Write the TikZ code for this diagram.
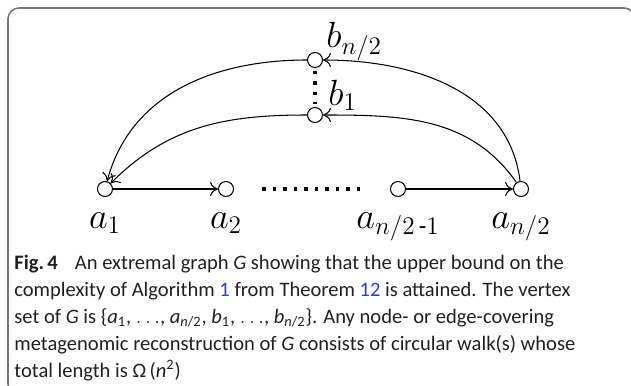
\documentclass[tikz,border=0pt]{standalone}
\usepackage{amsmath}
\usepackage[no-math]{fontspec}
\setmainfont{Carlito}
\usetikzlibrary{arrows.meta,positioning}
\definecolor{cframe}{RGB}{120,120,120}
\definecolor{clink}{RGB}{40,60,220}
\definecolor{ctext}{RGB}{35,31,32}
\newcommand{\Lref}[1]{\textcolor{clink}{#1}}
\newcommand{\Vsub}[2]{\textit{#1}\textsubscript{#2}}

\begin{document}
\begin{tikzpicture}[scale=1.0,
    vtx/.style={circle,draw,line width=0.6pt,minimum size=0.3cm,inner sep=0pt},
    lbl/.style={inner sep=0pt,font=\fontsize{20}{24}\selectfont},
    edge/.style={line width=0.6pt,-{To[length=4.5pt,width=8pt]}},
    dots/.style={line width=2pt,dash pattern=on 2pt off 4pt}]
    \clip (0,0) rectangle (12.62,7.70);
    \draw[cframe,line width=0.9pt,rounded corners=0.22cm] (0.16,-0.2) rectangle (12.70,7.54);
    % vertices
    \node[vtx] (a1) at (2.10,3.92) {};
    \node[vtx] (a2) at (4.52,3.92) {};
    \node[vtx] (a3) at (7.96,3.92) {};
    \node[vtx] (a4) at (10.42,3.92) {};
    \node[vtx] (b1) at (6.30,5.40) {};
    \node[vtx] (bn) at (6.30,6.50) {};
    % labels
    \node[lbl,anchor=base] (la1) at ([yshift=-0.78cm]a1) {$a_1$};
    \node[lbl,anchor=base] (la2) at ([yshift=-0.78cm]a2) {$a_2$};
    \node[lbl,anchor=base] (la3) at ([yshift=-0.78cm]a3) {$a_{n/2\,\text{-}1}$};
    \node[lbl,anchor=base] (la4) at ([yshift=-0.78cm]a4) {$a_{n/2}$};
    \node[lbl,anchor=base west] (lb1) at ([shift={(0.26,0.20)}]b1) {$b_1$};
    \node[lbl,anchor=base west] (lbn) at ([shift={(0.22,0.24)}]bn) {$b_{n/2}$};
    % edges
    \draw[edge] (a1) -- (a2);
    \draw[edge] (a3) -- (a4);
    \draw[edge] (a4) to[out=125,in=0] (b1);
    \draw[edge] (a4) to[out=97,in=0] (bn);
    \draw[edge] (b1) to[out=180,in=45] (a1);
    \draw[edge] (bn) to[out=180,in=75] (a1);
    \draw[dots,shorten <=0.56cm,shorten >=0.46cm] (a2) -- (a3);
    \draw[dots,shorten <=0.05cm,shorten >=0.05cm] (bn) -- (b1);
    % caption
    \node[anchor=north west,inner sep=0pt,align=left,text=ctext,
      font=\fontsize{11.7}{15.3}\selectfont] (cap) at (0.28,2.60) {%
      \textbf{Fig.\,4}\hspace{0.6em} An extremal graph \textit{G} showing that the upper bound on the\\
      complexity of Algorithm \Lref{1} from Theorem \Lref{12} is attained. The vertex\\
      set of \textit{G} is \{\Vsub{a}{1}, $\ldots$, \Vsub{a}{\textit{n}/2}, \Vsub{b}{1}, $\ldots$, \Vsub{b}{\textit{n}/2}\}. Any node- or edge-covering\\
      metagenomic reconstruction of \textit{G} consists of circular walk(s) whose\\
      total length is Ω\,(\textit{n}\textsuperscript{2})};
\end{tikzpicture}
\end{document}
